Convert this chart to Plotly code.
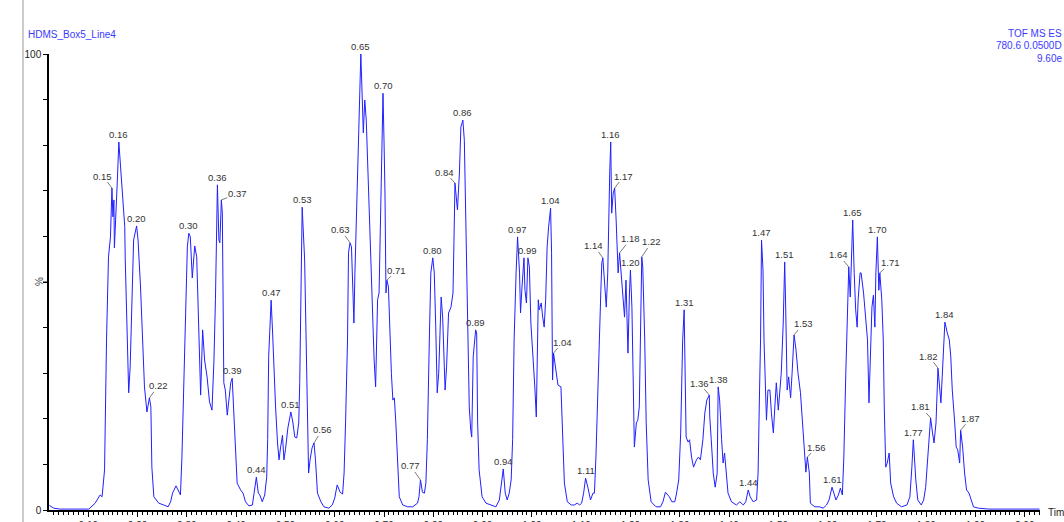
import plotly.graph_objects as go

# Extracted ion chromatogram: retention time (min) and relative intensity (%)
TIME_MIN = [
    0.021, 0.030, 0.043, 0.060, 0.074, 0.090, 0.101, 0.114, 0.124, 0.128,
    0.133, 0.137, 0.141, 0.145, 0.148, 0.150, 0.152, 0.153, 0.156, 0.159,
    0.162, 0.166, 0.170, 0.174, 0.175, 0.179, 0.182, 0.185, 0.189, 0.192,
    0.198, 0.201, 0.206, 0.210, 0.214, 0.219, 0.224, 0.227, 0.229, 0.233,
    0.243, 0.253, 0.262, 0.267, 0.271, 0.278, 0.284, 0.287, 0.290, 0.294,
    0.297, 0.301, 0.304, 0.307, 0.311, 0.316, 0.320, 0.324, 0.328, 0.332,
    0.336, 0.341, 0.346, 0.351, 0.355, 0.358, 0.360, 0.362, 0.365, 0.367,
    0.370, 0.372, 0.375, 0.378, 0.382, 0.385, 0.389, 0.392, 0.395, 0.399,
    0.402, 0.409, 0.414, 0.419, 0.426, 0.433, 0.436, 0.441, 0.445, 0.448,
    0.453, 0.458, 0.462, 0.464, 0.466, 0.471, 0.474, 0.477, 0.480, 0.484,
    0.487, 0.490, 0.494, 0.497, 0.500, 0.505, 0.511, 0.515, 0.519, 0.523,
    0.527, 0.529, 0.531, 0.533, 0.534, 0.539, 0.542, 0.545, 0.547, 0.550,
    0.554, 0.558, 0.561, 0.565, 0.572, 0.578, 0.588, 0.595, 0.600, 0.605,
    0.611, 0.616, 0.619, 0.622, 0.626, 0.628, 0.631, 0.634, 0.637, 0.639,
    0.641, 0.645, 0.648, 0.651, 0.653, 0.656, 0.658, 0.661, 0.664, 0.668,
    0.672, 0.676, 0.680, 0.683, 0.685, 0.687, 0.690, 0.692, 0.695, 0.698,
    0.700, 0.702, 0.704, 0.706, 0.709, 0.712, 0.715, 0.718, 0.721, 0.724,
    0.727, 0.731, 0.738, 0.748, 0.758, 0.768, 0.771, 0.774, 0.778, 0.782,
    0.785, 0.788, 0.792, 0.795, 0.799, 0.802, 0.805, 0.808, 0.811, 0.813,
    0.816, 0.819, 0.822, 0.824, 0.827, 0.831, 0.836, 0.840, 0.842, 0.844,
    0.849, 0.853, 0.856, 0.860, 0.863, 0.866, 0.870, 0.873, 0.876, 0.878,
    0.881, 0.886, 0.888, 0.890, 0.893, 0.899, 0.907, 0.917, 0.927, 0.934,
    0.939, 0.942, 0.946, 0.950, 0.954, 0.958, 0.961, 0.964, 0.968, 0.971,
    0.975, 0.977, 0.980, 0.984, 0.986, 0.989, 0.992, 0.995, 0.998, 1.002,
    1.006, 1.009, 1.013, 1.015, 1.019, 1.022, 1.025, 1.028, 1.031, 1.034,
    1.038, 1.040, 1.042, 1.044, 1.049, 1.053, 1.059, 1.063, 1.066, 1.072,
    1.080, 1.086, 1.092, 1.097, 1.101, 1.105, 1.109, 1.114, 1.119, 1.124,
    1.127, 1.130, 1.134, 1.137, 1.140, 1.142, 1.144, 1.149, 1.151, 1.154,
    1.156, 1.158, 1.160, 1.162, 1.165, 1.168, 1.171, 1.173, 1.175, 1.178,
    1.181, 1.185, 1.188, 1.191, 1.195, 1.198, 1.200, 1.203, 1.206, 1.208,
    1.212, 1.215, 1.218, 1.220, 1.223, 1.225, 1.229, 1.232, 1.236, 1.242,
    1.252, 1.261, 1.266, 1.271, 1.275, 1.279, 1.284, 1.290, 1.293, 1.298,
    1.302, 1.306, 1.309, 1.311, 1.313, 1.317, 1.320, 1.324, 1.328, 1.334,
    1.338, 1.342, 1.347, 1.351, 1.355, 1.360, 1.361, 1.364, 1.368, 1.372,
    1.376, 1.378, 1.381, 1.385, 1.388, 1.391, 1.395, 1.398, 1.405, 1.415,
    1.422, 1.429, 1.434, 1.439, 1.443, 1.449, 1.456, 1.459, 1.462, 1.464,
    1.466, 1.469, 1.471, 1.474, 1.476, 1.479, 1.483, 1.486, 1.490, 1.493,
    1.496, 1.500, 1.503, 1.506, 1.510, 1.513, 1.515, 1.518, 1.521, 1.523,
    1.525, 1.528, 1.532, 1.536, 1.540, 1.545, 1.549, 1.553, 1.556, 1.559,
    1.563, 1.565, 1.574, 1.584, 1.591, 1.598, 1.603, 1.609, 1.613, 1.617,
    1.622, 1.626, 1.630, 1.633, 1.637, 1.640, 1.643, 1.646, 1.648, 1.651,
    1.654, 1.657, 1.660, 1.662, 1.666, 1.668, 1.673, 1.677, 1.681, 1.684,
    1.686, 1.690, 1.693, 1.696, 1.698, 1.701, 1.704, 1.706, 1.710, 1.713,
    1.715, 1.718, 1.721, 1.725, 1.728, 1.734, 1.740, 1.750, 1.761, 1.767,
    1.771, 1.774, 1.779, 1.783, 1.790, 1.795, 1.799, 1.803, 1.807, 1.809,
    1.813, 1.816, 1.820, 1.822, 1.824, 1.830, 1.834, 1.836, 1.838, 1.843,
    1.847, 1.850, 1.853, 1.858, 1.861, 1.864, 1.868, 1.870, 1.874, 1.878,
    1.882, 1.887, 1.892, 1.896, 1.906, 1.927, 1.960, 1.994, 2.030,
]

REL_INTENSITY = [
    1.0, 0.4, 0.2, 0.2, 0.1, 0.2, 0.2, 1.5, 3.3, 2.9,
    8.8, 37.3, 55.5, 59.9, 70.6, 64.3, 68.0, 57.5, 63.6, 72.4,
    80.7, 73.9, 67.3, 62.1, 54.8, 40.1, 25.7, 31.4, 50.4, 59.2,
    62.3, 59.2, 48.9, 38.8, 27.0, 21.5, 24.6, 22.6, 9.4, 2.9,
    1.5, 1.1, 0.7, 1.8, 3.7, 5.3, 3.9, 3.3, 11.6, 30.0,
    44.5, 57.7, 60.7, 59.9, 50.9, 57.9, 55.5, 41.0, 25.2, 39.5,
    32.9, 29.2, 23.7, 21.9, 32.9, 46.1, 62.9, 71.3, 59.2, 58.6,
    68.0, 65.1, 27.9, 26.3, 20.8, 24.1, 27.9, 28.9, 21.3, 11.6,
    5.9, 4.4, 3.7, 1.8, 0.9, 1.1, 3.7, 7.2, 3.7, 3.3,
    1.8, 3.3, 7.2, 15.4, 33.6, 46.0, 38.8, 30.0, 22.6, 14.7,
    11.0, 13.6, 16.4, 11.0, 13.2, 18.0, 21.5, 19.3, 16.0, 15.8,
    19.1, 27.9, 43.2, 56.4, 66.4, 54.8, 37.3, 20.4, 8.1, 11.0,
    13.6, 14.7, 11.0, 3.7, 1.8, 0.7, 0.4, 1.1, 2.6, 5.5,
    3.9, 3.5, 8.1, 19.1, 37.3, 56.4, 58.6, 57.7, 48.2, 41.0,
    52.0, 68.0, 81.8, 93.6, 100.0, 89.9, 82.7, 89.9, 85.5, 72.4,
    57.7, 44.5, 32.9, 27.0, 37.3, 46.1, 47.6, 59.9, 81.1, 91.4,
    81.1, 69.5, 47.6, 50.4, 48.9, 38.8, 30.0, 24.1, 24.6, 19.1,
    13.2, 2.9, 1.1, 0.7, 0.7, 1.5, 2.9, 6.6, 3.9, 3.7,
    5.9, 15.4, 37.3, 52.0, 55.3, 52.0, 40.1, 25.7, 30.0, 37.3,
    46.7, 42.3, 33.6, 26.3, 31.4, 43.2, 44.5, 47.6, 59.2, 71.7,
    65.8, 73.9, 84.0, 85.5, 81.1, 62.1, 33.6, 22.6, 17.5, 16.0,
    33.6, 39.5, 38.8, 19.1, 8.8, 2.9, 1.5, 1.1, 0.7, 2.2,
    5.9, 9.0, 3.7, 2.2, 3.7, 6.6, 15.4, 37.3, 52.0, 59.9,
    52.0, 43.2, 48.9, 55.3, 48.2, 45.4, 55.3, 53.3, 41.0, 35.1,
    27.0, 20.4, 46.1, 43.9, 45.4, 42.3, 40.1, 46.1, 57.7, 62.1,
    66.2, 56.4, 28.5, 34.4, 30.0, 27.4, 27.0, 15.4, 5.9, 1.8,
    1.1, 1.1, 1.5, 1.1, 1.5, 3.7, 7.0, 4.8, 2.2, 3.7,
    3.7, 11.6, 24.1, 37.3, 48.2, 54.2, 55.3, 48.2, 44.5, 52.0,
    66.4, 73.9, 80.7, 65.1, 69.5, 70.6, 63.6, 57.7, 52.0, 56.4,
    52.0, 44.5, 42.3, 50.4, 34.4, 47.6, 52.6, 44.5, 30.0, 13.8,
    19.1, 19.7, 22.6, 37.3, 55.5, 53.3, 37.3, 19.1, 6.6, 1.8,
    0.7, 0.7, 1.8, 3.9, 3.3, 2.9, 1.8, 1.8, 3.3, 6.6,
    16.9, 37.3, 43.9, 30.0, 16.0, 14.9, 15.4, 11.6, 9.4, 11.0,
    11.6, 11.0, 15.4, 21.3, 24.1, 25.2, 20.4, 15.4, 8.1, 5.0,
    8.1, 27.0, 24.1, 15.4, 10.3, 12.5, 8.1, 3.7, 1.8, 1.1,
    1.8, 1.1, 1.8, 4.4, 2.9, 1.8, 2.2, 8.1, 26.3, 37.3,
    59.2, 52.6, 37.3, 26.3, 19.7, 26.3, 26.3, 21.3, 16.9, 22.6,
    27.9, 21.9, 25.7, 30.0, 41.0, 54.4, 44.5, 26.3, 29.2, 25.7,
    24.6, 30.0, 38.4, 35.1, 30.0, 25.7, 19.1, 11.6, 8.3, 11.6,
    8.1, 1.5, 0.7, 0.7, 0.4, 1.1, 2.2, 5.0, 3.3, 2.2,
    3.3, 4.8, 3.3, 11.6, 30.0, 44.5, 53.3, 46.7, 53.3, 63.6,
    52.0, 43.9, 40.1, 46.1, 52.0, 52.0, 47.6, 43.2, 37.3, 23.5,
    32.2, 44.5, 47.1, 40.1, 52.0, 59.9, 48.2, 52.0, 46.1, 37.3,
    22.6, 9.4, 10.3, 12.5, 5.9, 2.9, 1.5, 0.7, 1.1, 2.9,
    9.4, 15.4, 6.6, 2.2, 1.1, 2.2, 5.0, 11.6, 19.1, 20.2,
    16.9, 14.7, 19.1, 26.3, 31.1, 23.5, 32.9, 38.8, 41.2, 38.8,
    37.3, 33.6, 26.3, 19.1, 13.8, 13.2, 10.3, 17.5, 13.8, 8.1,
    4.4, 3.7, 1.8, 0.7, 0.4, 0.2, 0.2, 0.2, 0.2,
]

# Apex retention times that receive a peak label
PEAK_RT = [
    0.148, 0.162, 0.198, 0.224, 0.304, 0.362, 0.370, 0.392, 0.441, 0.471,
    0.511, 0.534, 0.558, 0.631, 0.653, 0.698, 0.706, 0.774, 0.799, 0.844,
    0.860, 0.886, 0.942, 0.971, 0.992, 1.038, 1.044, 1.109, 1.144, 1.160,
    1.168, 1.178, 1.200, 1.223, 1.309, 1.360, 1.378, 1.439, 1.466, 1.513,
    1.532, 1.559, 1.609, 1.643, 1.651, 1.701, 1.706, 1.774, 1.809, 1.824,
    1.838, 1.870,
]

# Labels pushed sideways with a leader line: pixel offset of the text
LEADER_OFFSET = {
    0.148: (-9, -12), 0.224: (9, -12), 0.370: (16, -6), 0.558: (8, -13),
    0.631: (-9, -13), 0.706: (10, -10), 0.774: (-10, -14), 0.844: (-10, -11),
    1.044: (9, -11), 1.144: (-9, -12), 1.168: (9, -12), 1.178: (11, -14),
    1.223: (10, -15), 1.360: (-10, -12), 1.532: (9, -11), 1.559: (9, -10),
    1.643: (-10, -12), 1.706: (11, -10), 1.809: (-10, -11), 1.824: (-9, -12),
    1.870: (10, -12),
}

SAMPLE_NAME = "HDMS_Box5_Line4"
INFO_LINES = ["TOF MS ES", "780.6 0.0500D", "9.60e"]

FONT = "Arial, 'Liberation Sans', sans-serif"
TRACE_BLUE = "#2020ff"
TEXT_BLUE = "#3a3aff"

# Plot-area geometry in pixels (used to place paper-referenced decorations)
L, R, T, B = 49, 24, 54, 12
W, H = 1064, 522
PW, PH = W - L - R, H - T - B


def px_x(px):
    return (px - L) / PW


def px_y(py):
    return (H - B - py) / PH


fig = go.Figure()
fig.add_trace(go.Scatter(
    x=TIME_MIN, y=REL_INTENSITY, mode="lines",
    line=dict(color=TRACE_BLUE, width=1),
    hoverinfo="skip", showlegend=False,
))

annotations = []
for rt in PEAK_RT:
    inten = REL_INTENSITY[TIME_MIN.index(rt)]
    label = f"{rt:.2f}"
    common = dict(x=rt, y=inten, xref="x", yref="y", text=label,
                  font=dict(family=FONT, size=9.5, color="#333333"))
    if rt in LEADER_OFFSET:
        dx, dy = LEADER_OFFSET[rt]
        annotations.append(dict(**common, showarrow=True, arrowhead=0,
                                arrowwidth=1, arrowcolor="#7a7a7a",
                                ax=dx, ay=dy, standoff=0, borderpad=0))
    else:
        annotations.append(dict(**common, showarrow=False, yanchor="bottom",
                                yshift=1, borderpad=0))

annotations.append(dict(
    x=px_x(26), y=px_y(35), xref="paper", yref="paper", text=SAMPLE_NAME,
    showarrow=False, xanchor="left", yanchor="middle",
    font=dict(family=FONT, size=10, color=TEXT_BLUE)))
for i, line in enumerate(INFO_LINES):
    annotations.append(dict(
        x=px_x(1064), y=px_y(33 + 13 * i), xref="paper", yref="paper",
        text=line, showarrow=False, xanchor="right", yanchor="middle",
        font=dict(family=FONT, size=10, color=TEXT_BLUE)))
annotations.append(dict(
    x=px_x(1046), y=0, xref="paper", yref="y", text="Time",
    showarrow=False, xanchor="left", yanchor="middle", yshift=-2,
    font=dict(family=FONT, size=10, color="#222222")))
annotations.append(dict(
    x=px_x(39), y=50, xref="paper", yref="y", text="%", textangle=-90,
    showarrow=False, xanchor="center", yanchor="middle",
    font=dict(family=FONT, size=10, color="#444444")))

shapes = [
    dict(type="line", xref="paper", yref="paper",
         x0=px_x(23), x1=px_x(23), y0=px_y(H), y1=px_y(0),
         line=dict(color="#9a9a9a", width=1)),
    dict(type="line", xref="paper", yref="y",
         x0=px_x(43), x1=0, y0=50, y1=50,
         line=dict(color="black", width=1)),
]

yticks = list(range(0, 101, 10))
fig.update_layout(
    width=W, height=H,
    margin=dict(l=L, r=R, t=T, b=B, pad=0, autoexpand=False),
    paper_bgcolor="white", plot_bgcolor="white",
    font=dict(family=FONT, size=10, color="#222222"),
    showlegend=False,
    annotations=annotations,
    shapes=shapes,
    xaxis=dict(
        range=[0.0203, 2.031], showgrid=False, zeroline=False,
        automargin=False,
        showline=True, linecolor="black", linewidth=1.5,
        ticks="outside", ticklen=5, tickwidth=1, tickcolor="black",
        tick0=0, dtick=0.1, tickformat=".2f",
        tickfont=dict(family=FONT, size=10, color="#222222"),
        minor=dict(tick0=0, dtick=0.01, ticks="outside", ticklen=3,
                   tickwidth=1, tickcolor="black", showgrid=False),
    ),
    yaxis=dict(
        range=[0, 100], showgrid=False, zeroline=False,
        automargin=False,
        showline=True, linecolor="black", linewidth=1.5,
        ticks="outside", ticklen=4, tickwidth=1, tickcolor="black",
        tickvals=yticks,
        ticktext=["0" if v == 0 else "100" if v == 100 else "" for v in yticks],
        tickfont=dict(family=FONT, size=10, color="#222222"),
    ),
)

fig.write_html("out.html")
